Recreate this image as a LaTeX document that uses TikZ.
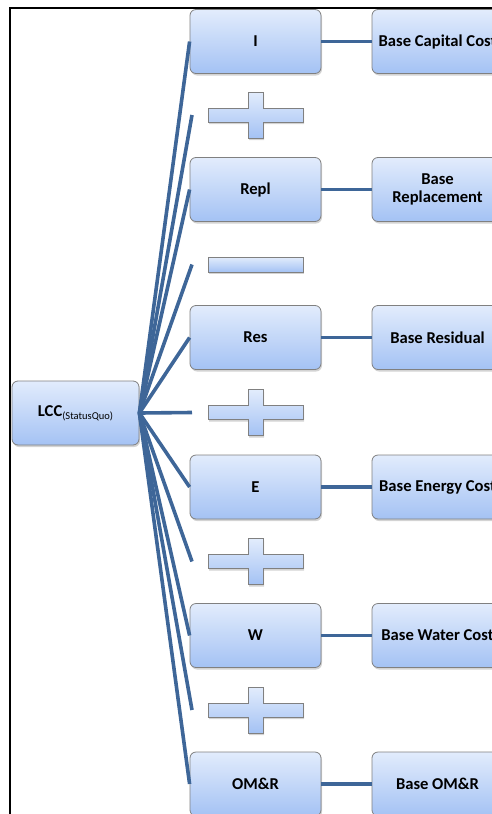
\documentclass[tikz,border=0pt]{standalone}
\usepackage{fontspec}
\setmainfont{Carlito}
\usetikzlibrary{shadows}
\definecolor{linkblue}{RGB}{62,102,152}
\definecolor{boxtop}{RGB}{226,236,252}
\definecolor{boxbot}{RGB}{164,194,244}
\definecolor{boxline}{RGB}{128,128,128}
\tikzset{
  card/.style={draw=boxline, line width=0.8pt, rounded corners=6pt,
    top color=boxtop, bottom color=boxbot, minimum width=131pt, minimum height=64pt,
    inner sep=2pt, align=center, font=\bfseries\fontsize{16.6}{18}\selectfont,
    drop shadow={opacity=0.35, shadow xshift=1pt, shadow yshift=-2pt}},
  link/.style={draw=linkblue, line width=3.6pt},
  opshape/.style={draw=boxline, line width=0.7pt, top color=boxtop, bottom color=boxbot,
    drop shadow={opacity=0.35, shadow xshift=1pt, shadow yshift=-2pt}},
}
\newcommand{\plusop}[1]{%
  \path[opshape] ([shift={(-47.5,-7)}]#1) -- ++(40,0) -- ++(0,-16) -- ++(15,0) -- ++(0,16)
    -- ++(40,0) -- ++(0,14) -- ++(-40,0) -- ++(0,16) -- ++(-15,0) -- ++(0,-16) -- ++(-40,0) -- cycle;}
\newcommand{\minusop}[1]{%
  \path[opshape] ([shift={(-47.5,-7.5)}]#1) rectangle ++(95,15);}
\begin{document}
\begin{tikzpicture}[x=1pt,y=-1pt]
\useasboundingbox (0,0) rectangle (492,814);
\begin{scope}
\clip (0,0) rectangle (492,814);
% frame
\draw[line width=2pt] (10,900) -- (10,8) -- (600,8);
% coordinates for operators
\coordinate (op1) at (255.5,115);
\coordinate (op2) at (255.5,264.5);
\coordinate (op3) at (255.5,412.5);
\coordinate (op4) at (255.5,561.5);
\coordinate (op5) at (255.5,710);
\foreach \o in {op1,op2,op3,op4,op5} {\coordinate (\o e) at ([xshift=-63.5]\o);}
% root
\node[card, minimum width=127pt] (lcc) at (75.5,413) {LCC\raisebox{-0.4ex}{\mdseries\fontsize{10.5}{11}\selectfont(StatusQuo)}};
% left column
\node[card] (i) at (255.5,41.5) {I};
\node[card] (repl) at (255.5,189.5) {Repl};
\node[card] (res) at (255.5,337.5) {Res};
\node[card] (e) at (255.5,487) {E};
\node[card] (w) at (255.5,635.5) {W};
\node[card] (omr) at (255.5,784) {OM\&R};
% right column
\node[card] (bi) at (437.5,41.5) {Base Capital Cost};
\node[card] (brepl) at (437.5,189.5) {Base\\Replacement};
\node[card] (bres) at (437.5,337.5) {Base Residual};
\node[card] (be) at (437.5,487) {Base Energy Cost};
\node[card] (bw) at (437.5,635.5) {Base Water Cost};
\node[card] (bomr) at (437.5,784) {Base OM\&R};
% operators
\plusop{op1}
\minusop{op2}
\plusop{op3}
\plusop{op4}
\plusop{op5}
% horizontal links
\foreach \a/\b in {i/bi,repl/brepl,res/bres,e/be,w/bw,omr/bomr} {\draw[link] (\a.east) -- (\b.west);}
% fan
\foreach \t in {i,repl,res,e,w,omr} {\draw[link] (lcc.east) -- (\t.west);}
\foreach \o in {op1,op2,op3,op4,op5} {\draw[link] (lcc.east) -- (\o e);}
\end{scope}
\end{tikzpicture}
\end{document}
